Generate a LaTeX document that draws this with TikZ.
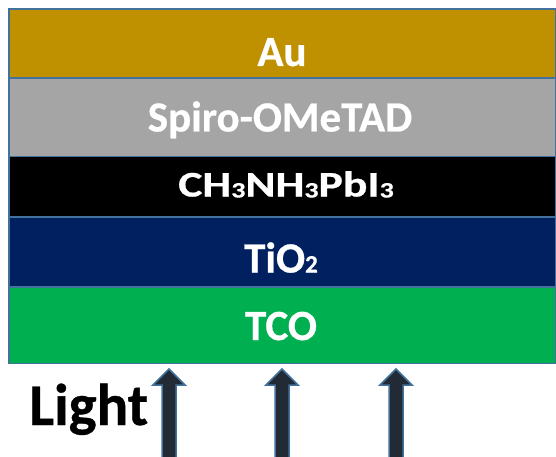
\documentclass[tikz,border=0pt]{standalone}
\usepackage{fontspec}
\setmainfont{Carlito}
\newfontfamily\lblfont[FakeBold=0.6]{Carlito Bold}
\definecolor{auC}{HTML}{BF9000}
\definecolor{spiroC}{HTML}{A5A5A5}
\definecolor{tioC}{HTML}{002060}
\definecolor{tcoC}{HTML}{00B050}
\definecolor{edgeC}{HTML}{41719C}
\definecolor{arrowC}{HTML}{222A35}
\tikzset{
  layerbox/.style={draw=edgeC, line width=1.5pt, inner sep=0pt, anchor=north west, minimum width=547pt},
  lbl/.style={text=white, font=\lblfont\fontsize{43}{43}\selectfont, anchor=base, inner sep=0pt},
  arrowshape/.style={fill=arrowC, draw=edgeC, line width=1.5pt, line join=miter},
  lightarrow/.pic={\draw[arrowshape] (0,369) -- (16,385) -- (7,385) -- (7,465) -- (-7,465) -- (-7,385) -- (-16,385) -- cycle;}
}
\newcommand{\subdig}[2]{\raisebox{#2}{\fontsize{#1}{#1}\selectfont 3}}
\begin{document}
\begin{tikzpicture}[x=1pt,y=-1pt]
\useasboundingbox (0,0) rectangle (556,457);
\clip (0,0) rectangle (556,457);
% layers
\node[layerbox, fill=auC, minimum height=69pt] (au) at (8,8.5) {};
\node[layerbox, fill=spiroC, minimum height=78.5pt] (spiro) at (8,77.5) {};
\node[layerbox, fill=black, minimum height=60pt] (pero) at (8,156) {};
\node[layerbox, fill=tioC, minimum height=70pt] (tio) at (8,216) {};
\node[layerbox, fill=tcoC, minimum height=76.5pt] (tco) at (8,286) {};
% labels
\node[lbl] (aulbl) at (282,66) {Au};
\node[lbl] (spirolbl) at (280,131.5) {Spiro-OMeTAD};
\node[lbl, font=\lblfont\fontsize{36}{36}\selectfont] (perolbl) at (286,196.5) {\scalebox{1.27}[1]{CH\subdig{22}{-1pt}NH\subdig{22}{-1pt}PbI\subdig{22}{-1pt}}};
\node[lbl] (tiolbl) at (281,272.5) {TiO{\fontsize{25}{25}\selectfont 2}};
\node[lbl] (tcolbl) at (281,340) {TCO};
% light
\node[anchor=base west, inner sep=0pt, font=\lblfont\fontsize{59}{59}\selectfont] (light) at (29,425) {Light};
\pic at (169,0) {lightarrow};
\pic at (282,0) {lightarrow};
\pic at (396,0) {lightarrow};
\end{tikzpicture}
\end{document}
